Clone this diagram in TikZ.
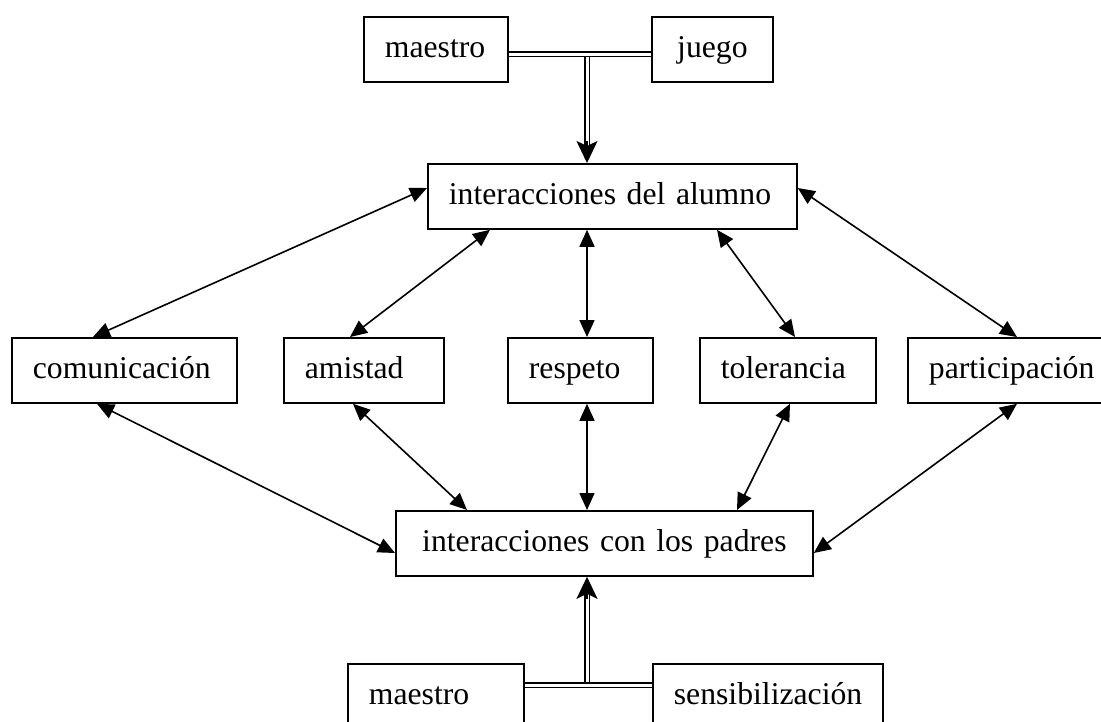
\documentclass[tikz,border=0pt]{standalone}
\usepackage{fontspec}
\setmainfont{Liberation Serif}
\usetikzlibrary{arrows.meta}
\begin{document}
\begin{tikzpicture}[x=1pt,y=-1pt,
  box/.style={draw, line width=1.8pt, anchor=north west, minimum height=65pt,
    inner xsep=21pt, inner ysep=0pt, align=left, text height=23pt, text depth=6pt,
    font=\fontsize{31.7}{36}\selectfont},
  arr/.style={line width=1.6pt, {Triangle[length=17pt,width=15pt]}-{Triangle[length=17pt,width=15pt]}},
  dbl/.style={line width=1.8pt, double distance=3pt},
  tip/.style={line width=1.6pt, -{Stealth[length=22pt,width=21pt,inset=5pt]}}]
\clip (0,0) rectangle (1101,721);
\fill[white] (0,0) rectangle (1101,721);
% top
\node[box, text width=102pt] (m1) at (363,16) {maestro};
\node[box, text width=79pt, align=center] (j1) at (651,16) {juego};
\node[box, text width=327pt] (alu) at (427,163) {interacciones del alumno};
% middle
\node[box, text width=183pt] (com) at (11,337) {comunicación};
\node[box, text width=118pt] (ami) at (283,337) {amistad};
\node[box, text width=103pt] (res) at (507,337) {respeto};
\node[box, text width=134pt] (tol) at (699,337) {tolerancia};
\node[box, text width=166pt] (par) at (907,337) {participación};
% lower
\node[box, text width=375pt, align=center] (pad) at (395,510) {interacciones con los padres};
\node[box, text width=134pt] (m2) at (347,663) {maestro};
\node[box, text width=188pt] (sen) at (652,663) {sensibilización};
% double connectors
\coordinate (t1) at (587,54);
\coordinate (t2) at (587,685);
\draw[dbl, shorten >=14pt] (t1) -- (t1 |- alu.north);
\draw[tip] ([yshift=22pt]t1 |- alu.north) -- (t1 |- alu.north);
\draw[dbl] (m1.east |- t1) -- (j1.west |- t1);
\draw[dbl, shorten >=14pt] (t2) -- (t2 |- pad.south);
\draw[tip] ([yshift=-22pt]t2 |- pad.south) -- (t2 |- pad.south);
\draw[dbl] (m2.east |- t2) -- (sen.west |- t2);
% upper arrows
\draw[arr] ([xshift=82pt]com.north west) -- ([yshift=-25pt]alu.north west);
\draw[arr] ([xshift=67pt]ami.north west) -- ([xshift=63pt]alu.south west);
\draw[arr] ([xshift=80pt]res.north west) -- ([xshift=160pt]alu.south west);
\draw[arr] ([xshift=96pt]tol.north west) -- ([xshift=290pt]alu.south west);
\draw[arr] ([xshift=110pt]par.north west) -- ([yshift=-25pt]alu.north east);
% lower arrows
\draw[arr] ([xshift=86pt]com.south west) -- ([yshift=-43pt]pad.north west);
\draw[arr] ([xshift=70pt]ami.south west) -- ([xshift=72pt]pad.north west);
\draw[arr] ([xshift=80pt]res.south west) -- ([xshift=192pt]pad.north west);
\draw[arr] ([xshift=91pt]tol.south west) -- ([xshift=342pt]pad.north west);
\draw[arr] ([xshift=110pt]par.south west) -- ([yshift=-43pt]pad.north east);
\end{tikzpicture}
\end{document}
